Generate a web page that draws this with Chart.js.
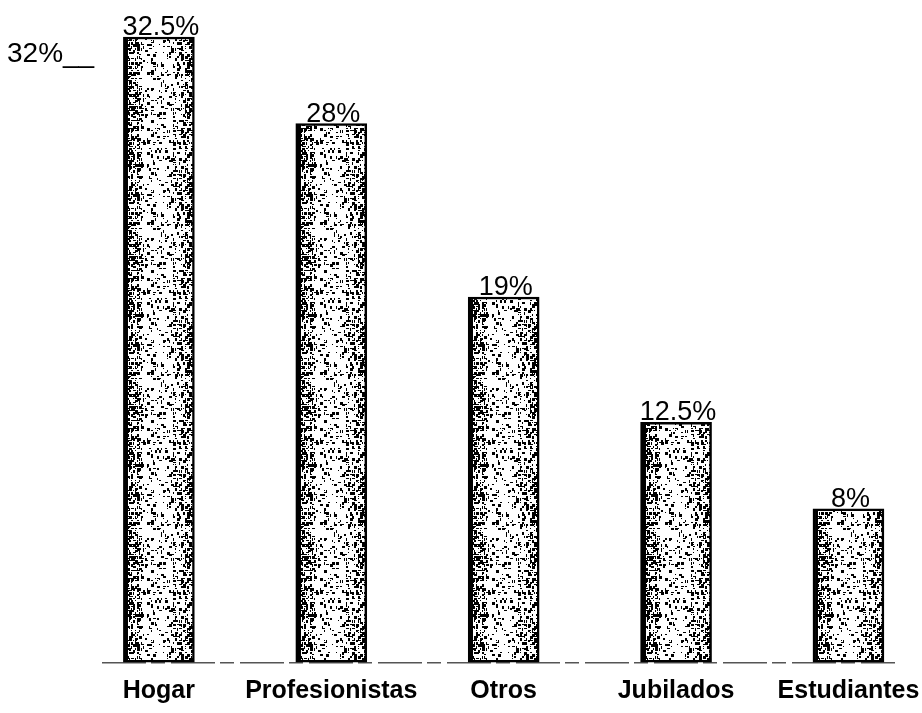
<!DOCTYPE html>
<html>
<head>
<meta charset="utf-8">
<script src="https://cdn.jsdelivr.net/npm/chart.js@4.4.0/dist/chart.umd.min.js"></script>
<style>
    html, body { margin: 0; padding: 0; background: #fff; overflow: hidden; }
    #wrap { width: 922px; height: 713px; }
</style>
</head>
<body>
<div id="wrap"><canvas id="chart" width="922" height="713"></canvas></div>
<script>
// --- data ---
const CATEGORIES = ['Hogar', 'Profesionistas', 'Otros', 'Jubilados', 'Estudiantes'];
const VALUES = [32.5, 28, 19, 12.5, 8];
const VALUE_LABELS = ['32.5%', '28%', '19%', '12.5%', '8%'];
const Y_TICKS = [0, 32];
const Y_TICK_LABELS = ['', '32%__'];

const FONT = '"Liberation Sans", Arial, sans-serif';
const BAR_W = 71;

// grainy fill like the photocopied bars: dark at the edges, light in the middle
// (fixed seed, it is only texture)
function speckleTile() {
    const w = BAR_W, h = 150;
    const c = document.createElement('canvas');
    c.width = w; c.height = h;
    const g = c.getContext('2d');
    g.fillStyle = '#fff';
    g.fillRect(0, 0, w, h);
    let seed = 11;
    const rnd = () => (seed = (seed * 16807) % 2147483647) / 2147483647;
    g.fillStyle = '#000';
    g.fillRect(0, 0, 5, h);
    for (let y = 0; y < h; y += 2) {
        for (let x = 0; x < w; x += 2) {
            let p;
            if (x < 9) p = 0.7;
            else if (x < 20) p = 0.42;
            else if (x > w - 10) p = 0.55;
            else if (x > w - 22) p = 0.38;
            else p = 0.16;
            if (rnd() < p) {
                const bw = 1 + Math.floor(rnd() * 3), bh = 1 + Math.floor(rnd() * 3);
                g.fillRect(x, y, bw, bh);
            }
        }
    }
    return c;
}
const TILE = speckleTile();

function barFill(context) {
    const chart = context.chart;
    const pat = chart.ctx.createPattern(TILE, 'repeat');
    const x = chart.scales.x.getPixelForValue(context.dataIndex);
    if (pat && pat.setTransform) pat.setTransform(new DOMMatrix().translate(Math.round(x - BAR_W / 2), 0));
    return pat;
}

// percent text sitting on top of each bar
const valueLabels = {
    id: 'valueLabels',
    afterDatasetsDraw(chart) {
        const ctx = chart.ctx;
        const meta = chart.getDatasetMeta(0);
        ctx.save();
        ctx.font = '27px ' + FONT;
        ctx.fillStyle = '#000';
        ctx.textAlign = 'center';
        ctx.textBaseline = 'alphabetic';
        meta.data.forEach((bar, i) => ctx.fillText(VALUE_LABELS[i], bar.x + 2, bar.y - 2));
        ctx.restore();
    }
};

new Chart(document.getElementById('chart'), {
    type: 'bar',
    data: {
        datasets: [{
            data: VALUES.map((v, i) => ({ x: i, y: v })),
            backgroundColor: barFill,
            borderColor: '#000',
            borderWidth: 2.5,
            borderSkipped: false,
            barThickness: BAR_W
        }]
    },
    options: {
        responsive: false,
        animation: false,
        layout: { padding: { left: 7, top: 0, right: 27, bottom: 0 } },
        plugins: { legend: { display: false }, tooltip: { enabled: false } },
        scales: {
            x: {
                type: 'linear',
                offset: false,
                min: -0.33,
                max: 4.27,
                grid: { display: false, drawTicks: false },
                border: { display: false },
                afterBuildTicks: axis => { axis.ticks = CATEGORIES.map((_, i) => ({ value: i })); },
                afterFit: axis => { axis.height = 50; axis.paddingLeft = 0; axis.paddingRight = 0; },
                ticks: {
                    autoSkip: false,
                    maxRotation: 0,
                    padding: 13,
                    color: '#000',
                    font: { family: FONT, size: 25, weight: 'bold' },
                    callback: v => CATEGORIES[v] ?? ''
                }
            },
            y: {
                min: 0,
                max: 34.42,
                // only the zero line is shown: the broken baseline of the scan
                grid: {
                    drawTicks: false,
                    lineWidth: 1.5,
                    color: c => (c.tick && c.tick.value === 0 ? '#555' : 'rgba(0,0,0,0)')
                },
                border: { display: false, dash: [44, 5, 14, 6] },
                afterBuildTicks: axis => { axis.ticks = Y_TICKS.map(v => ({ value: v })); },
                afterFit: axis => { axis.width = 95; axis.paddingTop = 0; axis.paddingBottom = 0; },
                ticks: {
                    crossAlign: 'far',
                    labelOffset: 8,
                    color: '#000',
                    font: { family: FONT, size: 28 },
                    callback: (v, i) => Y_TICK_LABELS[i]
                }
            }
        }
    },
    plugins: [valueLabels]
});
</script>
</body>
</html>
